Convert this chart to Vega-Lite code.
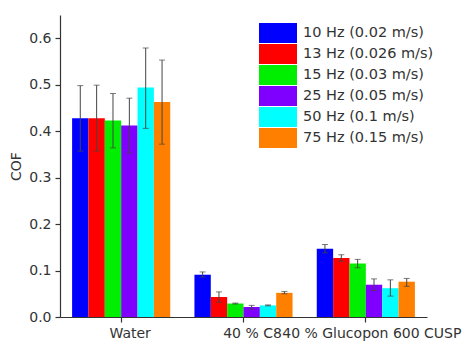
{
  "$schema": "https://vega.github.io/schema/vega-lite/v6.json",
  "width": 367,
  "height": 302,
  "autosize": {"type": "none"},
  "padding": {"left": 60, "top": 15, "right": 36, "bottom": 28},
  "background": "white",
  "config": {
    "view": {"stroke": null},
    "font": "DejaVu Sans",
    "axis": {
      "grid": false,
      "domainColor": "#333333",
      "tickColor": "#333333",
      "labelColor": "#333333",
      "titleColor": "#333333",
      "labelFont": "DejaVu Sans",
      "titleFont": "DejaVu Sans",
      "labelFontSize": 14,
      "titleFontSize": 14,
      "titleFontWeight": "normal",
      "tickSize": 5,
      "domainWidth": 1.2,
      "tickWidth": 1.2
    }
  },
  "data": {
    "values": [
      {"medium": "Water", "freq": "10 Hz (0.02 m/s)", "cof": 0.428, "lo": 0.357, "hi": 0.498},
      {"medium": "Water", "freq": "13 Hz (0.026 m/s)", "cof": 0.428, "lo": 0.357, "hi": 0.499},
      {"medium": "Water", "freq": "15 Hz (0.03 m/s)", "cof": 0.423, "lo": 0.364, "hi": 0.481},
      {"medium": "Water", "freq": "25 Hz (0.05 m/s)", "cof": 0.412, "lo": 0.353, "hi": 0.471},
      {"medium": "Water", "freq": "50 Hz (0.1 m/s)", "cof": 0.494, "lo": 0.406, "hi": 0.579},
      {"medium": "Water", "freq": "75 Hz (0.15 m/s)", "cof": 0.463, "lo": 0.372, "hi": 0.553},
      {"medium": "40 % C8", "freq": "10 Hz (0.02 m/s)", "cof": 0.091, "lo": 0.086, "hi": 0.097},
      {"medium": "40 % C8", "freq": "13 Hz (0.026 m/s)", "cof": 0.043, "lo": 0.032, "hi": 0.054},
      {"medium": "40 % C8", "freq": "15 Hz (0.03 m/s)", "cof": 0.029, "lo": 0.028, "hi": 0.030},
      {"medium": "40 % C8", "freq": "25 Hz (0.05 m/s)", "cof": 0.0215, "lo": 0.017, "hi": 0.025},
      {"medium": "40 % C8", "freq": "50 Hz (0.1 m/s)", "cof": 0.025, "lo": 0.024, "hi": 0.026},
      {"medium": "40 % C8", "freq": "75 Hz (0.15 m/s)", "cof": 0.052, "lo": 0.050, "hi": 0.055},
      {"medium": "40 % Glucopon 600 CUSP", "freq": "10 Hz (0.02 m/s)", "cof": 0.147, "lo": 0.138, "hi": 0.156},
      {"medium": "40 % Glucopon 600 CUSP", "freq": "13 Hz (0.026 m/s)", "cof": 0.127, "lo": 0.120, "hi": 0.134},
      {"medium": "40 % Glucopon 600 CUSP", "freq": "15 Hz (0.03 m/s)", "cof": 0.115, "lo": 0.106, "hi": 0.124},
      {"medium": "40 % Glucopon 600 CUSP", "freq": "25 Hz (0.05 m/s)", "cof": 0.0695, "lo": 0.057, "hi": 0.082},
      {"medium": "40 % Glucopon 600 CUSP", "freq": "50 Hz (0.1 m/s)", "cof": 0.062, "lo": 0.045, "hi": 0.080},
      {"medium": "40 % Glucopon 600 CUSP", "freq": "75 Hz (0.15 m/s)", "cof": 0.076, "lo": 0.066, "hi": 0.083}
    ]
  },
  "encoding": {
    "x": {
      "field": "medium",
      "type": "nominal",
      "sort": ["Water", "40 % C8", "40 % Glucopon 600 CUSP"],
      "scale": {"paddingInner": 0, "paddingOuter": 0},
      "axis": {
        "title": null,
        "labelAngle": 0,
        "labelOverlap": false,
        "labelBound": false,
        "labelFontSize": 14,
        "labelOffset": {"condition": {"test": "datum.value == '40 % Glucopon 600 CUSP'", "value": 6}, "value": 9},
        "labelPadding": 4
      }
    },
    "xOffset": {
      "field": "freq",
      "type": "nominal",
      "sort": ["10 Hz (0.02 m/s)", "13 Hz (0.026 m/s)", "15 Hz (0.03 m/s)", "25 Hz (0.05 m/s)", "50 Hz (0.1 m/s)", "75 Hz (0.15 m/s)"],
      "scale": {"paddingInner": 0, "paddingOuter": 0.74}
    }
  },
  "layer": [
    {
      "mark": {"type": "bar"},
      "encoding": {
        "y": {
          "field": "cof",
          "type": "quantitative",
          "title": "COF",
          "scale": {"domain": [0, 0.65], "nice": false},
          "axis": {
            "values": [0, 0.05, 0.1, 0.15, 0.2, 0.25, 0.3, 0.35, 0.4, 0.45, 0.5, 0.55, 0.6, 0.65],
            "labelExpr": "round(datum.value*100) % 10 == 0 ? format(datum.value, '.1f') : ''",
            "tickSize": {"condition": {"test": "round(datum.value*100) % 10 != 0", "value": 3}, "value": 5},
            "labelPadding": 4,
            "titlePadding": 5
          }
        },
        "color": {
          "field": "freq",
          "type": "nominal",
          "sort": ["10 Hz (0.02 m/s)", "13 Hz (0.026 m/s)", "15 Hz (0.03 m/s)", "25 Hz (0.05 m/s)", "50 Hz (0.1 m/s)", "75 Hz (0.15 m/s)"],
          "scale": {
            "domain": ["10 Hz (0.02 m/s)", "13 Hz (0.026 m/s)", "15 Hz (0.03 m/s)", "25 Hz (0.05 m/s)", "50 Hz (0.1 m/s)", "75 Hz (0.15 m/s)"],
            "range": ["#0000FF", "#FF0000", "#00EE00", "#8000FF", "#00FFFF", "#FF8000"]
          },
          "legend": {
            "title": null,
            "orient": "none",
            "legendX": 199,
            "legendY": 8,
            "padding": 0,
            "symbolType": "M-1,-1H2.8V1H-1Z",
            "symbolSize": 400,
            "symbolStrokeWidth": 0,
            "symbolOpacity": 1,
            "labelFont": "DejaVu Sans",
            "labelFontSize": 14.5,
            "labelColor": "#333333",
            "labelOffset": 24,
            "labelLimit": 300,
            "rowPadding": 1
          }
        }
      }
    },
    {
      "mark": {"type": "rule", "color": "#444444", "strokeWidth": 1},
      "encoding": {
        "y": {"field": "lo", "type": "quantitative"},
        "y2": {"field": "hi"}
      }
    },
    {
      "mark": {"type": "tick", "orient": "horizontal", "size": 6, "thickness": 1, "color": "#444444"},
      "encoding": {
        "y": {"field": "hi", "type": "quantitative"}
      }
    },
    {
      "mark": {"type": "tick", "orient": "horizontal", "size": 6, "thickness": 1, "color": "#444444"},
      "encoding": {
        "y": {"field": "lo", "type": "quantitative"}
      }
    }
  ]
}
